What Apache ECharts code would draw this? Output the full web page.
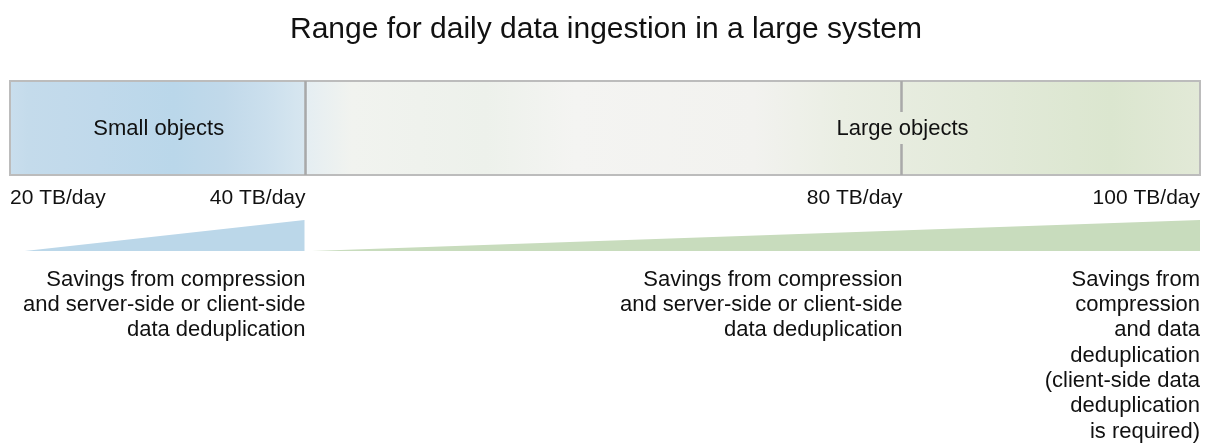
<!DOCTYPE html>
<html><head><meta charset="utf-8">
<script src="https://cdn.jsdelivr.net/npm/echarts@6/dist/echarts.min.js"></script>
<style>html,body{margin:0;padding:0;background:#fff}#c{width:1212px;height:446px}</style>
</head><body><div id="c"></div>
<script>
// ---- data ----
const titleText = 'Range for daily data ingestion in a large system';
const segmentNames = ['Small objects', 'Large objects'];
const segmentStarts = [20, 40];
const segmentEnds = [40, 100];
const segmentLabelAt = [30, 80];
const dividerValues = [40, 80];
const tickValues = [20, 40, 80, 100];
const tickLabels = ['20 TB/day', '40 TB/day', '80 TB/day', '100 TB/day'];
const smallSavings = [[21, 0], [39.8, 1]];
const largeSavings = [[40.3, 0], [100, 1]];
const noteAnchors = [40, 80, 100];
const noteTexts = [
  'Savings from compression\nand server-side or client-side\ndata deduplication',
  'Savings from compression\nand server-side or client-side\ndata deduplication',
  'Savings from\ncompression\nand data\ndeduplication\n(client-side data\ndeduplication\nis required)'
];

// ---- styles ----
const FONT = '"Liberation Sans", Helvetica, Arial, sans-serif';
const TEXT = '#111';
const segmentStops = [
  [[0, '#c9deed'], [0.06, '#c4dbeb'], [0.3, '#c0d9eb'], [0.55, '#bad7ea'], [0.72, '#c1d9ea'], [0.86, '#cbdfed'], [1, '#d8e7f0']],
  [[0, '#e5eef2'], [0.05, '#f1f3ef'], [0.2, '#edf1eb'], [0.3, '#f4f4f2'], [0.5, '#f2f2ef'], [0.6, '#eaeee3'], [0.75, '#e3eada'], [0.9, '#dbe6cf'], [1, '#e2e9d7']]
];

const chart = echarts.init(document.getElementById('c'), null, {renderer: 'canvas'});

const option = {
  backgroundColor: '#fff',
  animation: false,
  title: {
    text: titleText, left: 'center', top: 10,
    textStyle: {fontFamily: FONT, fontSize: 30, fontWeight: 'normal', color: TEXT}
  },
  grid: [
    {left: 10, right: 12, top: 81, height: 94},
    {left: 10, right: 12, top: 220, height: 31}
  ],
  xAxis: [
    {type: 'value', min: 20, max: 100, show: false, gridIndex: 0},
    {type: 'value', min: 20, max: 100, show: false, gridIndex: 1}
  ],
  yAxis: [
    {type: 'value', min: 0, max: 1, show: false, gridIndex: 0},
    {type: 'value', min: 0, max: 1, show: false, gridIndex: 1}
  ],
  series: [
    {
      type: 'custom', name: 'segments', xAxisIndex: 0, yAxisIndex: 0, silent: true,
      data: segmentNames.map((n, i) => [segmentStarts[i], segmentEnds[i], segmentLabelAt[i]]),
      renderItem: function (params, api) {
        const i = params.dataIndex;
        const a = api.coord([api.value(0), 1]);
        const b = api.coord([api.value(1), 0]);
        const c = api.coord([api.value(2), 0.5]);
        return {
          type: 'group',
          children: [
            {type: 'rect', shape: {x: a[0], y: a[1], width: b[0] - a[0], height: b[1] - a[1]},
             style: {fill: new echarts.graphic.LinearGradient(0, 0, 1, 0, segmentStops[i].map(s => ({offset: s[0], color: s[1]})))}},
            {type: 'text', x: c[0], y: c[1] + 1,
             style: {text: segmentNames[i], fontFamily: FONT, fontSize: 22, fill: TEXT, align: 'center', verticalAlign: 'middle'}}
          ]
        };
      }
    },
    {
      type: 'custom', name: 'frame', xAxisIndex: 0, yAxisIndex: 0, silent: true,
      data: [[segmentStarts[0], segmentEnds[segmentEnds.length - 1]]],
      renderItem: function (params, api) {
        const a = api.coord([api.value(0), 1]);
        const b = api.coord([api.value(1), 0]);
        return {type: 'rect', shape: {x: a[0], y: a[1], width: b[0] - a[0], height: b[1] - a[1]},
                style: {fill: 'none', stroke: '#bcbcbc', lineWidth: 2}};
      }
    },
    {
      type: 'custom', name: 'dividers', xAxisIndex: 0, yAxisIndex: 0, silent: true,
      data: dividerValues.map(v => [v]),
      renderItem: function (params, api) {
        const v = api.value(0);
        const t = api.coord([v, 1]);
        const b = api.coord([v, 0]);
        const x = t[0] - 2;
        const hasLabel = segmentLabelAt.indexOf(v) >= 0;
        const st = {stroke: '#a9a9a9', lineWidth: 2.5};
        if (!hasLabel) {
          return {type: 'line', shape: {x1: x, y1: t[1], x2: x, y2: b[1]}, style: st};
        }
        const m = (t[1] + b[1]) / 2;
        return {type: 'group', children: [
          {type: 'line', shape: {x1: x + 1, y1: t[1], x2: x + 1, y2: m - 16}, style: st},
          {type: 'line', shape: {x1: x + 1, y1: m + 16, x2: x + 1, y2: b[1]}, style: st}
        ]};
      }
    },
    {
      type: 'custom', name: 'ticks', xAxisIndex: 0, yAxisIndex: 0, silent: true,
      data: tickValues.map(v => [v]),
      renderItem: function (params, api) {
        const i = params.dataIndex;
        const p = api.coord([api.value(0), 0]);
        const dx = (i === 1) ? -2 : 0;
        return {type: 'text', x: p[0] + dx, y: p[1] + 23,
                style: {text: tickLabels[i], fontFamily: FONT, fontSize: 21, fill: TEXT,
                        align: i === 0 ? 'left' : 'right', verticalAlign: 'middle'}};
      }
    },
    {
      type: 'custom', name: 'notes', xAxisIndex: 0, yAxisIndex: 0, silent: true,
      data: noteAnchors.map(v => [v]),
      renderItem: function (params, api) {
        const i = params.dataIndex;
        const p = api.coord([api.value(0), 0]);
        const dx = (i === 0) ? -2 : 0;
        return {type: 'text', x: p[0] + dx, y: p[1] + 92,
                style: {text: noteTexts[i], fontFamily: FONT, fontSize: 22, lineHeight: 25.3, fill: TEXT,
                        align: 'right', verticalAlign: 'top'}};
      }
    },
    {
      type: 'line', name: 'Small objects savings', xAxisIndex: 1, yAxisIndex: 1, silent: true,
      data: smallSavings, showSymbol: false, symbol: 'none',
      lineStyle: {width: 0}, areaStyle: {color: '#bbd7e9', opacity: 1}
    },
    {
      type: 'line', name: 'Large objects savings', xAxisIndex: 1, yAxisIndex: 1, silent: true,
      data: largeSavings, showSymbol: false, symbol: 'none',
      lineStyle: {width: 0}, areaStyle: {color: '#c8dcbd', opacity: 1}
    }
  ]
};
chart.setOption(option);
</script>
</body></html>
